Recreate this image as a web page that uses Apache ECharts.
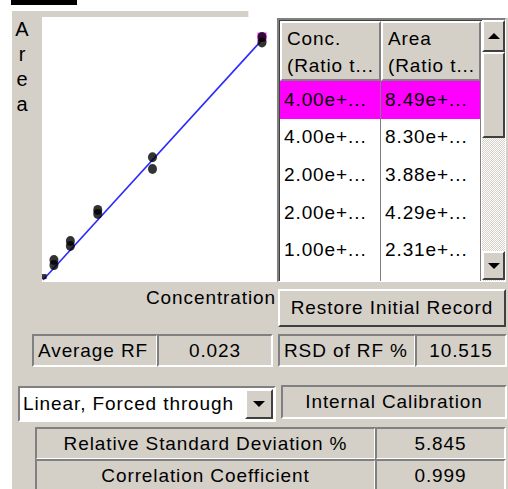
<!DOCTYPE html>
<html>
<head>
<meta charset="utf-8">
<script src="https://cdn.jsdelivr.net/npm/echarts@6/dist/echarts.min.js"></script>
<style>
html,body{margin:0;padding:0;background:#fff;width:508px;height:489px;overflow:hidden;font-family:"Liberation Sans",Arial,sans-serif;font-size:19px;letter-spacing:0.9px;color:#000;}
.abs{position:absolute;box-sizing:border-box;}
.panel{background:#d4d0c8;}
.sunken{border-top:2px solid #808080;border-left:2px solid #808080;border-bottom:2px solid #fff;border-right:2px solid #fff;}
.raised{border-top:2px solid #fff;border-left:2px solid #fff;border-bottom:2px solid #404040;border-right:2px solid #404040;}
.lbl{display:flex;align-items:center;white-space:nowrap;overflow:hidden;}
.c{justify-content:center;}
.l{justify-content:flex-start;padding-left:4px;}
.r{justify-content:flex-end;}
.cell{border-right:1px solid #808080;border-bottom:1px solid #808080;background:#fff;padding-left:4px;display:flex;align-items:center;white-space:nowrap;overflow:hidden;}
.hdr{background:#d4d0c8;border-top:2px solid #fff;border-left:2px solid #fff;border-right:2px solid #808080;border-bottom:2px solid #808080;padding-left:5px;padding-top:2px;line-height:27px;white-space:nowrap;overflow:hidden;}
.tri-up{width:0;height:0;border-left:6px solid transparent;border-right:6px solid transparent;border-bottom:6px solid #000;}
.tri-dn{width:0;height:0;border-left:6px solid transparent;border-right:6px solid transparent;border-top:6px solid #000;}
</style>
</head>
<body>
<div class="abs" style="left:11px;top:0;width:66px;height:5px;background:#000;"></div>
<div class="abs panel" style="left:12px;top:11px;width:496px;height:478px;"></div>
<div class="abs" style="left:248px;top:0;width:260px;height:18px;background:#fff;"></div>
<div class="abs" style="left:248px;top:11px;width:1px;height:7px;background:#eee;"></div>

<!-- vertical axis title -->
<div class="abs" style="left:10px;top:17px;width:24px;text-align:center;line-height:25px;font-size:20px;letter-spacing:0;">A<br>r<br>e<br>a</div>

<!-- chart -->
<div id="chart" class="abs" style="left:42px;top:17px;width:235px;height:265px;background:#fff;"></div>

<!-- table -->
<div class="abs" style="left:277px;top:18px;width:229px;height:264px;border-top:2px solid #808080;border-left:2px solid #808080;border-bottom:1px solid #fff;border-right:1px solid #fff;background:#fff;overflow:hidden;">
  <div class="abs" style="left:0;top:0;width:204px;height:262px;border-top:1px solid #404040;border-left:1px solid #404040;" id="tbl"></div>
  <!-- scrollbar -->
  <div class="abs" style="left:203px;top:0;width:23px;height:262px;background-color:#e8e6e2;background-image:repeating-conic-gradient(#d4d0c8 0 25%, #ffffff 0 50%);background-size:2px 2px;"></div>
  <div class="abs raised lbl c" style="left:203px;top:0;width:23px;height:32px;background:#d4d0c8;"><div class="tri-up"></div></div>
  <div class="abs raised" style="left:203px;top:32px;width:23px;height:86px;background:#d4d0c8;"></div>
  <div class="abs raised lbl c" style="left:203px;top:231px;width:23px;height:29px;background:#d4d0c8;"><div class="tri-dn"></div></div>
</div>

<div class="abs lbl r" style="left:100px;top:284px;width:176px;height:28px;">Concentration</div>
<div class="abs raised lbl c panel" style="left:278px;top:289px;width:228px;height:38px;">Restore Initial Record</div>

<div class="abs sunken lbl l" style="left:32px;top:334px;width:126px;height:33px;">Average RF</div>
<div class="abs sunken lbl c" style="left:157px;top:334px;width:116px;height:33px;">0.023</div>
<div class="abs sunken lbl l" style="left:278px;top:334px;width:138px;height:33px;">RSD of RF %</div>
<div class="abs sunken lbl c" style="left:415px;top:334px;width:92px;height:33px;">10.515</div>

<div class="abs sunken lbl" style="left:18px;top:386px;width:258px;height:36px;background:#fff;padding-left:3px;">Linear, Forced through</div>
<div class="abs raised lbl c panel" style="left:245px;top:389px;width:28px;height:30px;"><div class="tri-dn"></div></div>
<div class="abs sunken lbl c" style="left:281px;top:385px;width:226px;height:34px;">Internal Calibration</div>

<div class="abs sunken lbl c" style="left:35px;top:427px;width:341px;height:33px;">Relative Standard Deviation %</div>
<div class="abs sunken lbl c" style="left:375px;top:427px;width:131px;height:33px;">5.845</div>
<div class="abs sunken lbl c" style="left:35px;top:459px;width:341px;height:33px;">Correlation Coefficient</div>
<div class="abs sunken lbl c" style="left:375px;top:459px;width:131px;height:33px;">0.999</div>

<script>
// ---- data ----
const concentration = [4, 4, 2, 2, 1, 1, 0.5, 0.5, 0.2, 0.2, 0.02];
const area = [8.49, 8.30, 3.88, 4.29, 2.31, 2.45, 1.36, 1.19, 0.70, 0.52, 0.12];
const selectedIndex = 0;
const fitX = [0, 4];
const fitY = [0, 8.39];
const tableHeaders = [["Conc.", "(Ratio t..."], ["Area", "(Ratio t..."]];
const tableConc = ["4.00e+...", "4.00e+...", "2.00e+...", "2.00e+...", "1.00e+...", ""];
const tableArea = ["8.49e+...", "8.30e+...", "3.88e+...", "4.29e+...", "2.31e+...", ""];

// ---- table ----
const tbl = document.getElementById('tbl');
const colW = [101, 100];
const hdrH = 60, rowH = 37.6;
let x = 0;
tableHeaders.forEach((h, i) => {
  const d = document.createElement('div');
  d.className = 'abs hdr';
  d.style.cssText += `left:${x}px;top:0;width:${colW[i]}px;height:${hdrH}px;`;
  d.innerHTML = h[0] + '<br>' + h[1];
  tbl.appendChild(d);
  x += colW[i];
});
tableConc.forEach((c, r) => {
  const vals = [c, tableArea[r]];
  let cx = 0;
  vals.forEach((v, i) => {
    const d = document.createElement('div');
    d.className = 'abs cell';
    d.style.cssText += `left:${cx}px;top:${hdrH + r * rowH}px;width:${colW[i]}px;height:${rowH + 1}px;` + (r === selectedIndex ? 'background:#ff00ff;' : '');
    d.textContent = v;
    tbl.appendChild(d);
    cx += colW[i];
  });
});

// ---- chart ----
const pts = concentration.map((c, i) => [c, area[i]]);
const chart = echarts.init(document.getElementById('chart'), null, {renderer: 'canvas'});
chart.setOption({
  animation: false,
  backgroundColor: '#fff',
  grid: {left: 1, top: 0, width: 234, bottom: 2},
  xAxis: {type: 'value', min: 0, max: 4.274, show: false},
  yAxis: {type: 'value', min: 0, max: 9.19, show: false},
  series: [
    {
      type: 'line', data: fitX.map((v, i) => [v, fitY[i]]), showSymbol: false,
      lineStyle: {color: '#2a2aff', width: 1.6}, z: 1
    },
    {
      type: 'scatter', data: [pts[selectedIndex]], symbol: 'rect', symbolSize: 9,
      itemStyle: {color: '#ff00ff'}, z: 2
    },
    {
      type: 'scatter', data: pts.slice(0, -1), symbol: 'circle', symbolSize: [9, 10],
      itemStyle: {color: '#000'}, z: 3
    },
    {
      type: 'scatter', data: pts.slice(-1), symbol: 'rect', symbolSize: 5,
      itemStyle: {color: '#000'}, z: 3
    }
  ]
});
</script>
</body>
</html>
